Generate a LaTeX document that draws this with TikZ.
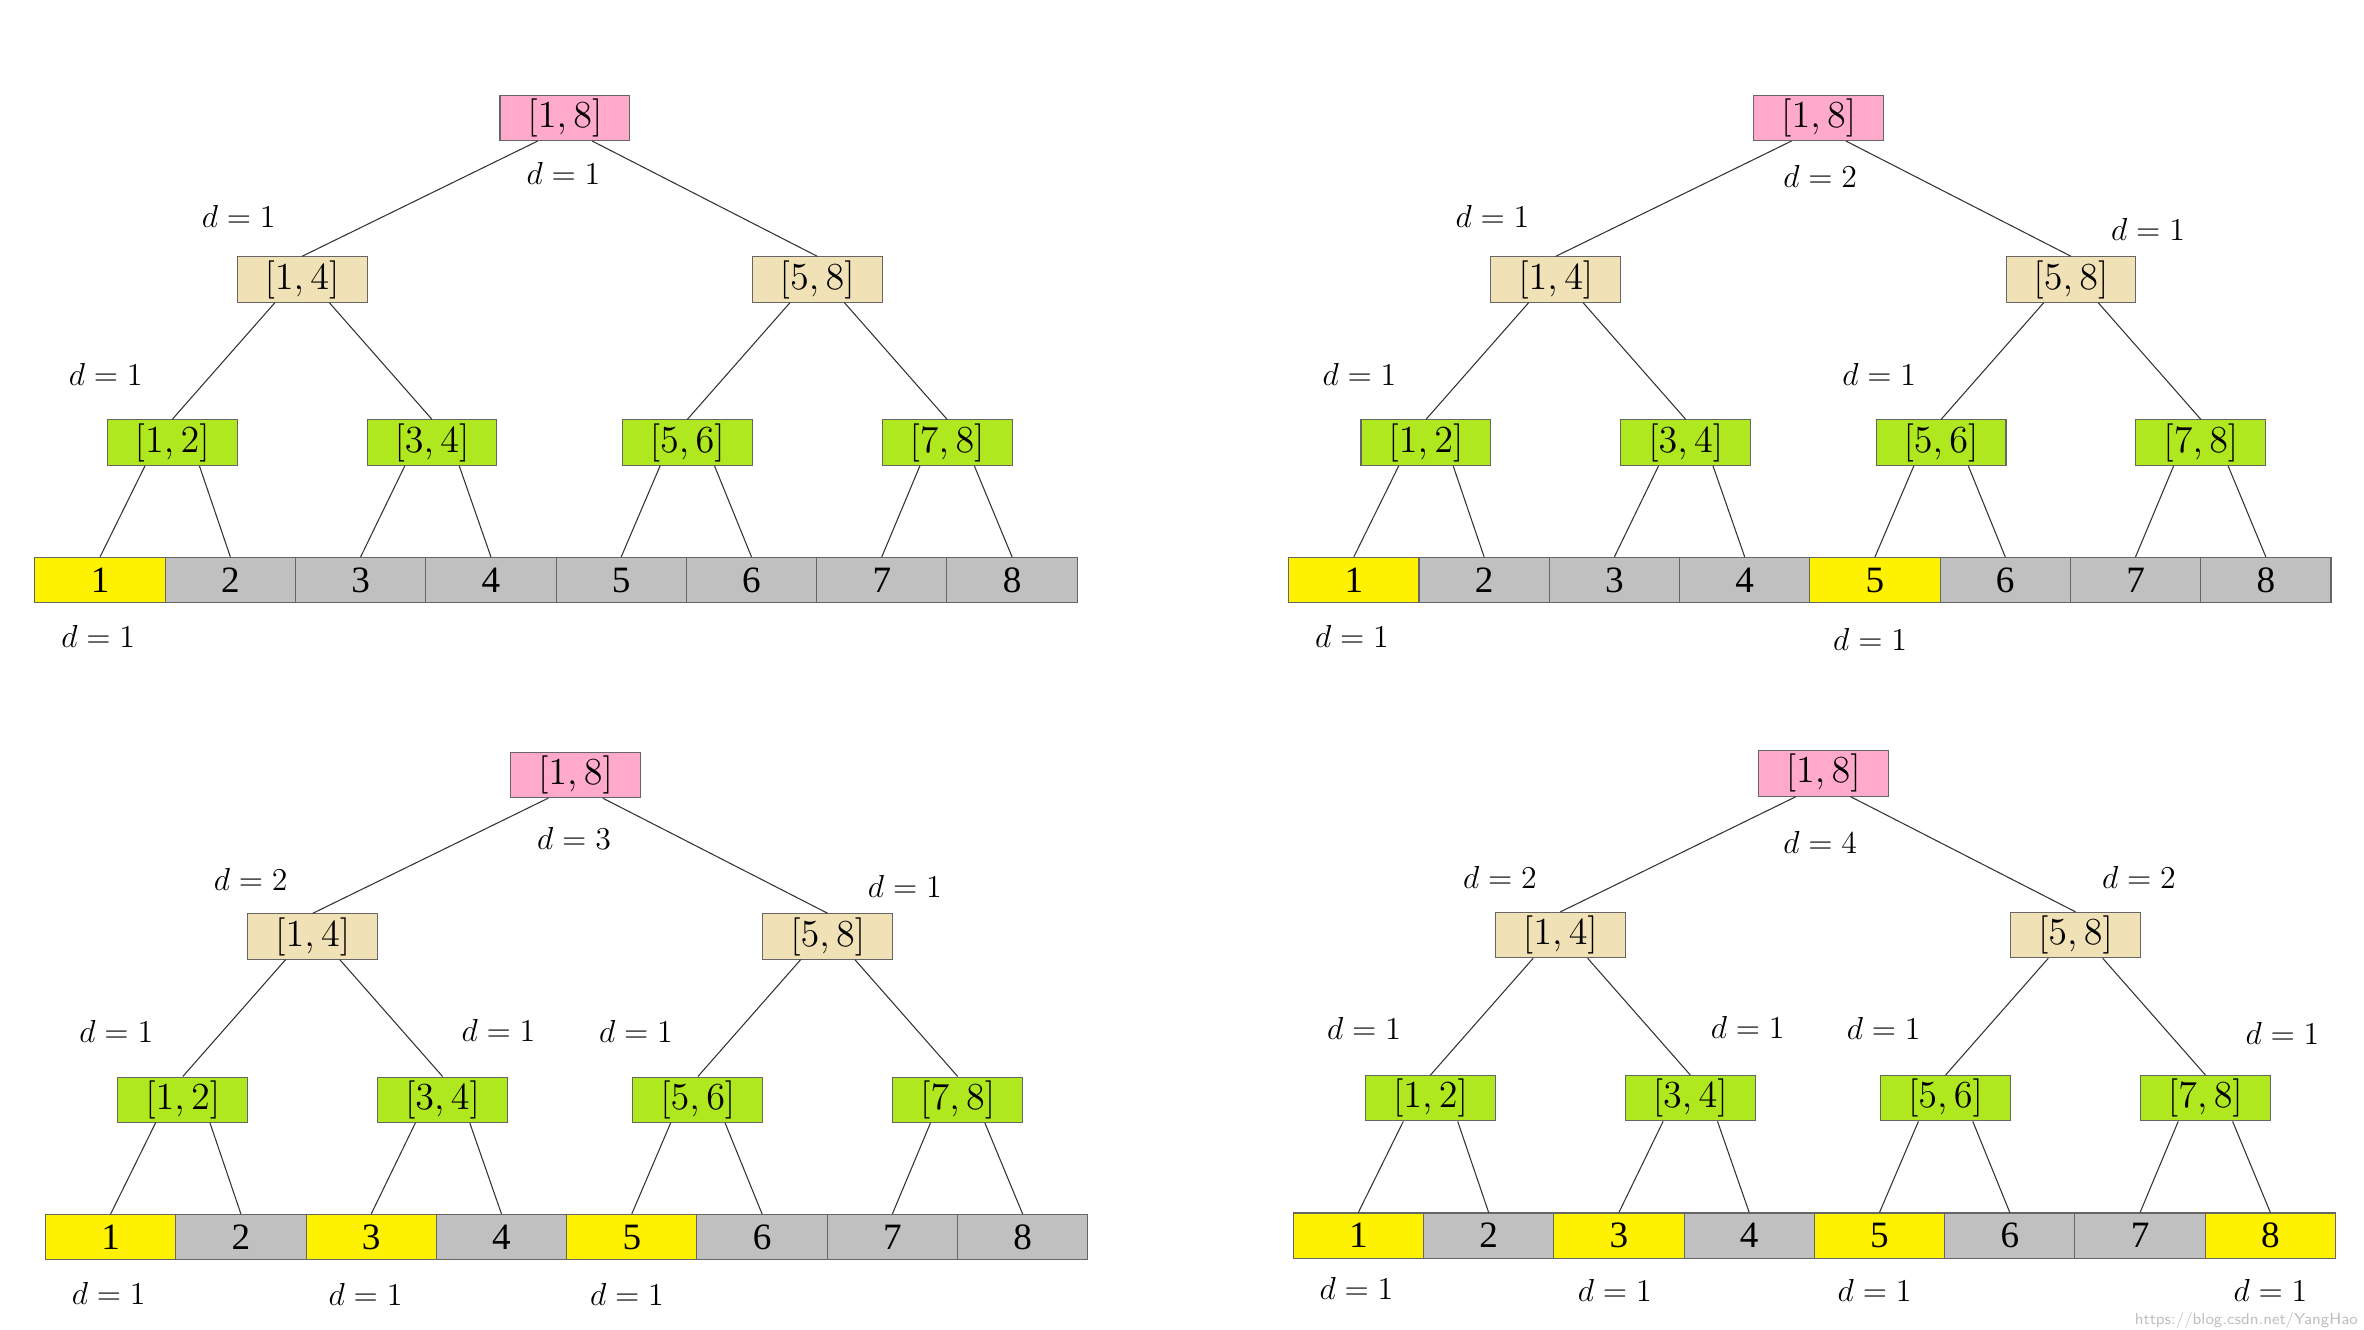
\documentclass[tikz,border=0pt]{standalone}
\usepackage{fontspec}
\setmainfont{Liberation Serif}
\definecolor{rootpink}{HTML}{FFAACB}
\definecolor{midwheat}{HTML}{F0E2B6}
\definecolor{lowgreen}{HTML}{B0E820}
\definecolor{leafgray}{HTML}{C0C0C0}
\tikzset{
  seg/.style={draw=black!60, minimum width=1.72cm, minimum height=0.6cm, inner sep=0pt, font=\fontsize{14}{16}\selectfont},
  top/.style={seg, fill=rootpink},
  mid/.style={seg, fill=midwheat},
  low/.style={seg, fill=lowgreen},
  leaf/.style={seg, minimum width=1.725cm},
  dl/.style={font=\fontsize{13}{15}\selectfont},
  edge/.style={draw=black!80, line width=0.4pt}
}
% #1 prefix, #2 #3 shift, #4 leaf colours, #5 labels
\newcommand\segtree[5]{%
\begin{scope}[shift={(#2,#3)}, name prefix=#1-]
  \node[top] (r) at (374,78) {$[1,8]$};
  \node[mid] (a) at (200,185) {$[1,4]$};
  \node[mid] (b) at (541,185) {$[5,8]$};
  \node[low] (a1) at (114,293) {$[1,2]$};
  \node[low] (a2) at (286,293) {$[3,4]$};
  \node[low] (b1) at (455,293) {$[5,6]$};
  \node[low] (b2) at (627,293) {$[7,8]$};
  \foreach \c [count=\i] in {#4}
    \node[leaf, fill=\c] (l\i) at ({66.25+86.25*(\i-1)},384) {\i};
  \foreach \p/\u/\v in {r/a/b, a/a1/a2, b/b1/b2, a1/l1/l2, a2/l3/l4, b1/l5/l6, b2/l7/l8} {
    \draw[edge] ([xshift=-0.36cm]\p.south) -- (\u.north);
    \draw[edge] ([xshift=0.36cm]\p.south) -- (\v.north);
  }
  #5
\end{scope}}

\begin{document}
\begin{tikzpicture}[x=0.02cm, y=-0.02cm]
\useasboundingbox (0,0) rectangle (1565,880);
% top left
\segtree{p}{0}{0}{yellow,leafgray,leafgray,leafgray,leafgray,leafgray,leafgray,leafgray}{
  \node[dl] (p-dr) at (373,115) {$d=1$};
  \node[dl] (p-da) at (158,143) {$d=1$};
  \node[dl] (p-da1) at (70,248) {$d=1$};
  \node[dl] (p-dl1) at (65,421) {$d=1$};}
% top right
\segtree{q}{830}{0}{yellow,leafgray,leafgray,leafgray,yellow,leafgray,leafgray,leafgray}{
  \node[dl] (q-dr) at (375,117) {$d=2$};
  \node[dl] (q-da) at (158,143) {$d=1$};
  \node[dl] (q-db) at (592,152) {$d=1$};
  \node[dl] (q-da1) at (70,248) {$d=1$};
  \node[dl] (q-db1) at (414,248) {$d=1$};
  \node[dl] (q-dl1) at (65,421) {$d=1$};
  \node[dl] (q-dl5) at (408,423) {$d=1$};}
% bottom left
\segtree{s}{7}{435}{yellow,leafgray,yellow,leafgray,yellow,leafgray,leafgray,leafgray}{
  \node[dl] (s-dr) at (373,120) {$d=3$};
  \node[dl] (s-da) at (159,147) {$d=2$};
  \node[dl] (s-db) at (592,152) {$d=1$};
  \node[dl] (s-da1) at (70,248) {$d=1$};
  \node[dl] (s-da2) at (323,247) {$d=1$};
  \node[dl] (s-db1) at (414,248) {$d=1$};
  \node[dl] (s-dl1) at (65,421) {$d=1$};
  \node[dl] (s-dl3) at (235,422) {$d=1$};
  \node[dl] (s-dl5) at (408,422) {$d=1$};}
% bottom right
\segtree{t}{833}{434}{yellow,leafgray,yellow,leafgray,yellow,leafgray,leafgray,yellow}{
  \node[dl] (t-dr) at (372,124) {$d=4$};
  \node[dl] (t-da) at (160,147) {$d=2$};
  \node[dl] (t-db) at (583,147) {$d=2$};
  \node[dl] (t-da1) at (70,247) {$d=1$};
  \node[dl] (t-da2) at (324,246) {$d=1$};
  \node[dl] (t-db1) at (414,247) {$d=1$};
  \node[dl] (t-db2) at (678,250) {$d=1$};
  \node[dl] (t-dl1) at (65,419) {$d=1$};
  \node[dl] (t-dl3) at (236,420) {$d=1$};
  \node[dl] (t-dl5) at (408,420) {$d=1$};
  \node[dl] (t-dl8) at (670,420) {$d=1$};}
\node[text=black!25, font=\sffamily\fontsize{6}{7}\selectfont, anchor=east, inner sep=1pt] (mark) at (1563,874) {https://blog.csdn.net/YangHao};
\end{tikzpicture}
\end{document}
